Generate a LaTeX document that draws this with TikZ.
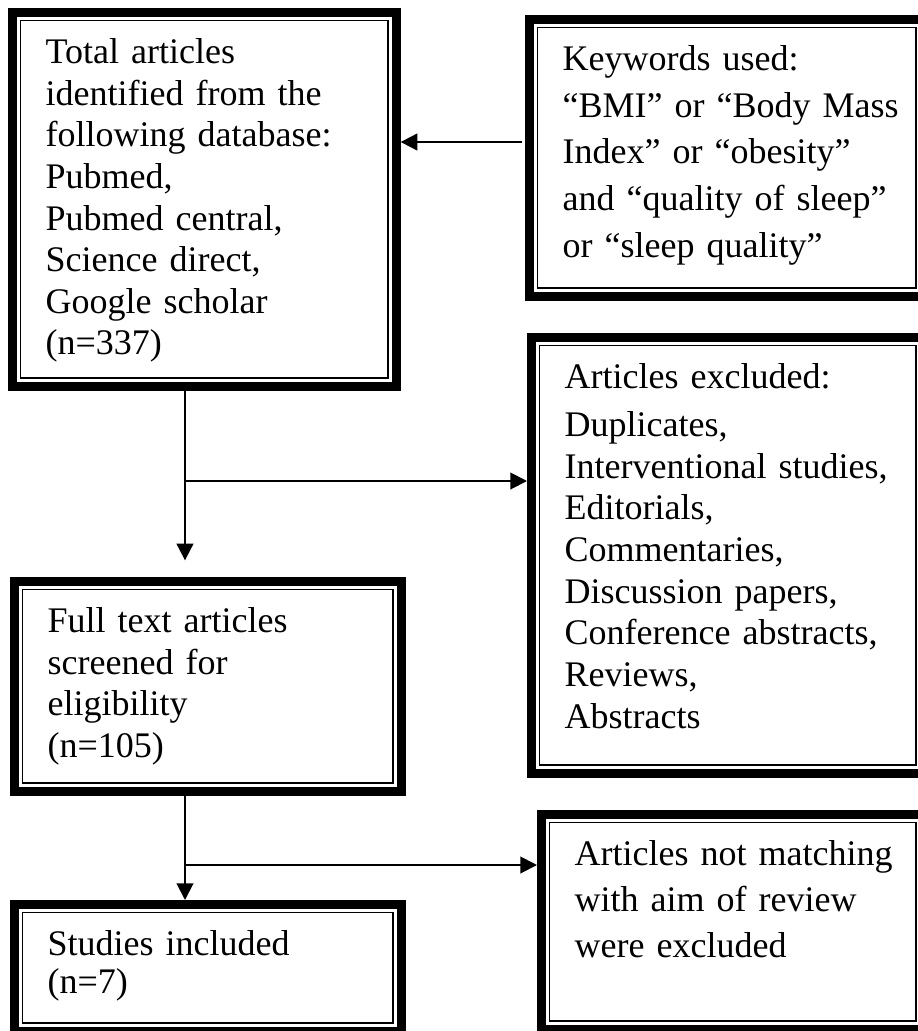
\documentclass[tikz,border=0pt]{standalone}
\usepackage{fontspec}
\setmainfont{Liberation Serif}
\usetikzlibrary{arrows.meta}

\begin{document}
\begin{tikzpicture}[x=0.3pt, y=-0.3pt, >={Triangle[length=5pt,width=5pt]}, line width=0.6pt,
    main/.style = {draw, line width=2.6pt, anchor=north west, inner xsep=10pt, inner ysep=5pt,
      align=left, text height=10.3pt, font=\fontsize{10.8}{12.5}\selectfont,
      path picture={\draw[line width=0.4pt] ([shift={(2.5pt,-2.5pt)}]path picture bounding box.north west)
        rectangle ([shift={(-2.5pt,2.5pt)}]path picture bounding box.south east);}}]
    \useasboundingbox (0,0) rectangle (918,1031);
    \clip (0,0) rectangle (918,1031);
    \node[main, text width=95.2pt, text depth=91.9pt] (1) at (8,8) {Total articles\\identified from the\\following database:\\Pubmed,\\Pubmed central,\\Science direct,\\Google scholar\\(n=337)};
    \node[main, text width=98.5pt, text depth=62.8pt, font=\fontsize{10.8}{14}\selectfont] (2) at (525,15) {Keywords used:\\\mbox{“BMI” or “Body Mass}\\Index” or “obesity”\\\mbox{and “quality of sleep”}\\or “sleep quality”};
    \node[main, text width=97.9pt, text depth=110.5pt] (3) at (527,333) {Articles excluded:\\[1.9pt]Duplicates,\\\mbox{Interventional studies,}\\Editorials,\\Commentaries,\\Discussion papers,\\\mbox{Conference abstracts,}\\Reviews,\\Abstracts};
    \node[main, text width=96.1pt, text depth=42.7pt] (4) at (10,577) {Full text articles\\screened for\\eligibility\\(n=105)};
    \node[main, text width=96.1pt, text depth=17.8pt, font=\fontsize{10.8}{11.5}\selectfont] (5) at (10,900) {Studies included\\(n=7)};
    \node[main, text width=94.9pt, text depth=44.2pt, font=\fontsize{10.8}{13.8}\selectfont] (6) at (537,810) {\mbox{Articles not matching}\\with aim of review\\were excluded};
    \coordinate (k) at (522,142);
    \coordinate (s1) at (185,481);
    \coordinate (s2) at (185,865);
    \draw[->] (k) -- (1.east |- k);
    \draw[->, shorten >=5pt] (1.south -| s1) -- (4.north -| s1);
    \draw[->] (s1) -- (3.west |- s1);
    \draw[->] (4.south -| s2) -- (5.north -| s2);
    \draw[->] (s2) -- (6.west |- s2);
\end{tikzpicture}
\end{document}
